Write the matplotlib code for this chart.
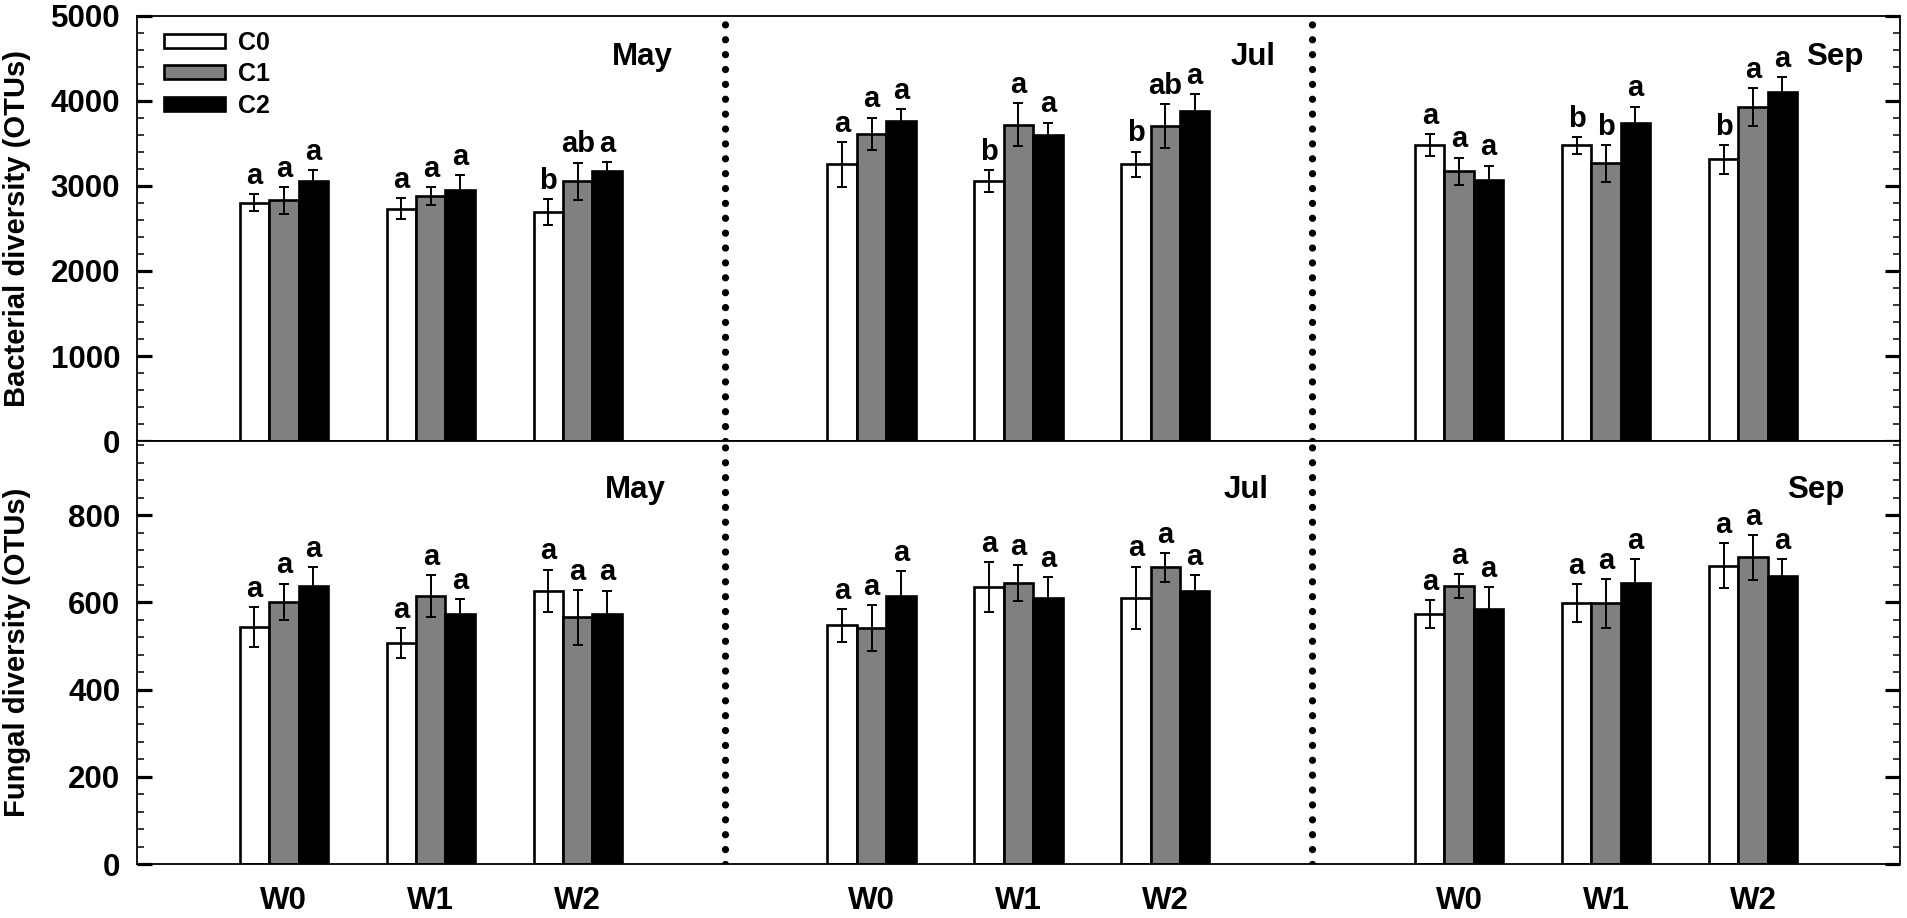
import matplotlib

matplotlib.use("Agg")
import matplotlib.pyplot as plt
import numpy as np

plt.rcParams["font.family"] = ["Liberation Sans", "DejaVu Sans"]
plt.rcParams["font.weight"] = "bold"

months = ["May", "Jul", "Sep"]
weeks = ["W0", "W1", "W2"]
series = ["C0", "C1", "C2"]
colors = ["white", "#808080", "black"]

# order: May W0..W2, Jul W0..W2, Sep W0..W2
bac_c0 = [2800, 2735, 2695, 3255, 3060, 3255, 3480, 3480, 3315]
bac_c1 = [2830, 2880, 3055, 3615, 3720, 3705, 3175, 3265, 3930]
bac_c2 = [3055, 2950, 3175, 3765, 3595, 3880, 3065, 3745, 4110]
bac_c0_err = [100, 125, 150, 265, 130, 150, 130, 100, 170]
bac_c1_err = [160, 105, 220, 190, 255, 260, 160, 215, 220]
bac_c2_err = [135, 175, 110, 137, 150, 205, 175, 190, 170]
bac_c0_let = ["a", "a", "b", "a", "b", "b", "a", "b", "b"]
bac_c1_let = ["a", "a", "ab", "a", "a", "ab", "a", "b", "a"]
bac_c2_let = ["a", "a", "a", "a", "a", "a", "a", "a", "a"]

fun_c0 = [543, 507, 627, 547, 636, 610, 574, 598, 684]
fun_c1 = [601, 614, 566, 541, 644, 680, 637, 598, 703]
fun_c2 = [637, 573, 573, 614, 611, 627, 585, 644, 660]
fun_c0_err = [46, 34, 48, 37, 57, 72, 32, 44, 52]
fun_c1_err = [42, 48, 63, 52, 42, 33, 28, 56, 51]
fun_c2_err = [44, 35, 54, 57, 47, 36, 50, 56, 40]
fun_let = ["a"] * 9

pos = np.array([m * 4 + w for m in range(3) for w in range(3)], dtype=float)
width = 0.2
offsets = [-width, 0.0, width]

fig = plt.figure(figsize=(19.07, 9.18), dpi=100)
ax_top = fig.add_axes([0.0718, 0.5196, 0.9245, 0.463])
ax_bot = fig.add_axes([0.0718, 0.0588, 0.9245, 0.4608])


def draw_panel(ax, means, errs, letters):
    for k in range(3):
        x = pos + offsets[k]
        ax.bar(x, means[k], width, color=colors[k], edgecolor="black",
               linewidth=1.9, label=series[k], zorder=2)
        ax.errorbar(x, means[k], yerr=errs[k], fmt="none", ecolor="black",
                    elinewidth=1.4, capsize=3.6, capthick=1.4, zorder=3)
        for xi, m, e, t in zip(x, means[k], errs[k], letters[k]):
            ax.annotate(t, (xi, m + e), xytext=(0, 3), textcoords="offset points",
                        ha="center", va="bottom", fontsize=21, fontweight="bold")
    ax.set_xlim(-1, 11)
    for xv in (3, 7):
        ax.axvline(xv, color="black", linestyle=(0, (0.01, 2.05)), linewidth=5.2,
                   dash_capstyle="round", zorder=1)
    for s in ax.spines.values():
        s.set_linewidth(1.3)
    ax.tick_params(axis="y", which="both", direction="in", right=True,
                   labelsize=22.5, pad=12)
    ax.tick_params(axis="y", which="major", length=11, width=2.3)
    ax.tick_params(axis="y", which="minor", length=5, width=1.1)


draw_panel(ax_top, [bac_c0, bac_c1, bac_c2], [bac_c0_err, bac_c1_err, bac_c2_err],
           [bac_c0_let, bac_c1_let, bac_c2_let])
draw_panel(ax_bot, [fun_c0, fun_c1, fun_c2], [fun_c0_err, fun_c1_err, fun_c2_err],
           [fun_let, fun_let, fun_let])

ax_top.set_ylim(0, 5000)
ax_top.set_yticks(np.arange(0, 5001, 1000))
ax_top.set_yticks(np.arange(0, 5001, 200), minor=True)
ax_top.set_xticks([])
ax_top.set_ylabel("Bacterial diversity (OTUs)", fontsize=21, fontweight="bold")
ax_top.yaxis.set_label_coords(-0.06, 0.5)

ax_bot.set_ylim(0, 970)
ax_bot.set_yticks(np.arange(0, 801, 200))
ax_bot.set_yticks(np.arange(0, 961, 40), minor=True)
ax_bot.set_xticks(pos)
ax_bot.set_xticklabels(weeks * 3)
ax_bot.tick_params(axis="x", length=0, labelsize=22.5, pad=16)
ax_bot.set_ylabel("Fungal diversity (OTUs)", fontsize=21, fontweight="bold")
ax_bot.yaxis.set_label_coords(-0.06, 0.5)

top_label_x = [2.65, 6.75, 10.75]
bot_label_x = [2.6, 6.7, 10.62]
for name, xt, xb in zip(months, top_label_x, bot_label_x):
    ax_top.text(xt, 4520, name, ha="right", va="center", fontsize=22.5, fontweight="bold")
    ax_bot.text(xb, 857, name, ha="right", va="center", fontsize=22.5, fontweight="bold")

ax_top.legend(loc="upper left", bbox_to_anchor=(0.0155, 0.965), frameon=False,
              fontsize=18, handlelength=2.45, handleheight=0.48, handletextpad=0.5,
              labelspacing=0.3, borderpad=0, borderaxespad=0)

fig.savefig("out.png", dpi=100)
